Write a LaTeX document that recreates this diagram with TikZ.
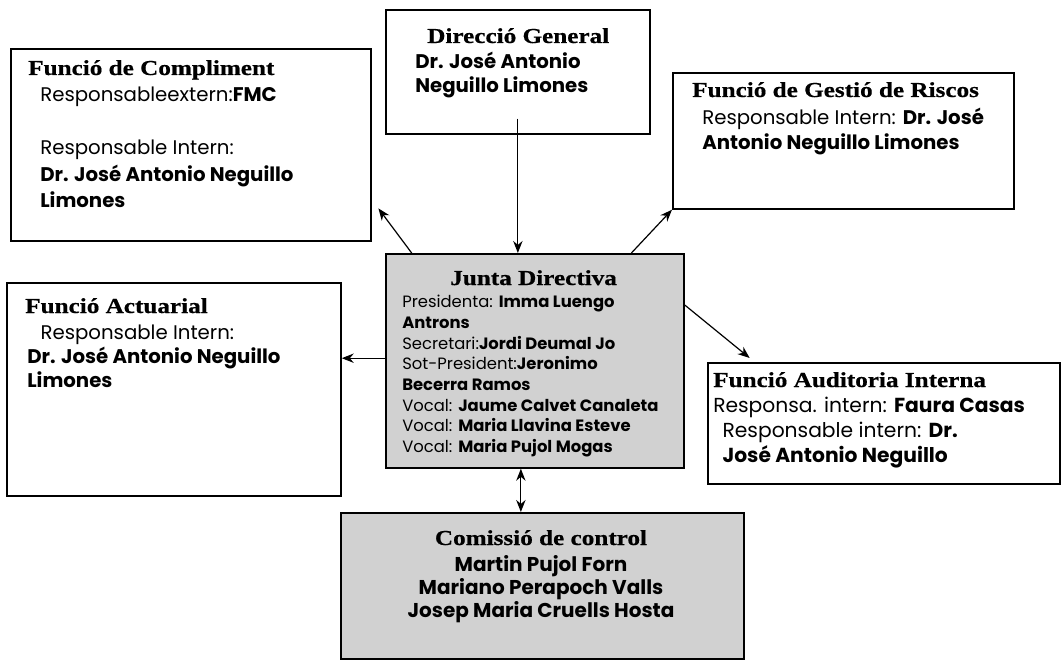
\documentclass[tikz,border=0pt]{standalone}
\usepackage{fontspec}
\setmainfont{Poppins}
\newfontfamily\titfont[FakeStretch=1.18,FakeBold=0.6]{Liberation Serif}
\usetikzlibrary{arrows.meta}
\begin{document}
\begin{tikzpicture}[x=0.75pt, y=-0.75pt,
	box/.style={draw, line width=1.3pt, inner sep=0, anchor=north west},
	shaded/.style={box, fill=black!18},
	ttl/.style={anchor=base west, inner sep=0, font=\titfont\bfseries\fontsize{16}{18}\selectfont},
	txt/.style={anchor=north west, inner sep=0, align=left, font=\fontsize{14.8}{18.8}\selectfont},
	small/.style={txt, font=\fontsize{12.3}{15.5}\selectfont},
	link/.style={-{Stealth[length=9pt,width=7pt]}, line width=0.9pt}]
	\useasboundingbox (0,0) rectangle (1061,660);
	
	%boxes
	\node[box, minimum width=270pt, minimum height=144pt] (compl) at (10,48){};
	\node[box, minimum width=198pt, minimum height=93pt] (dir) at (385,9){};
	\node[box, minimum width=255.75pt, minimum height=102pt] (risc) at (672,72){};
	\node[box, minimum width=250.5pt, minimum height=159.75pt] (act) at (6,282){};
	\node[shaded, minimum width=223.5pt, minimum height=160.5pt] (junta) at (385,253){};
	\node[box, minimum width=264pt, minimum height=90.75pt] (audit) at (707,362){};
	\node[shaded, minimum width=302.25pt, minimum height=109.5pt] (comis) at (340,512){};
	
	%titles
	\node[ttl] (complT) at (28,75){Funció de Compliment};
	\node[ttl] (dirT) at (427,43){Direcció General};
	\node[ttl] (riscT) at (692,97){Funció de Gestió de Riscos};
	\node[ttl] (actT) at (25,313){Funció Actuarial};
	\node[ttl] (juntaT) at (450,285){Junta Directiva};
	\node[ttl] (auditT) at (713,387){Funció Auditoria Interna};
	\node[ttl, anchor=base] (comisT) at (541,545){Comissió de control};
	
	%texts
	\node[txt, font=\fontsize{14.8}{19.8}\selectfont] (complB) at (40,87){Responsableextern:\textbf{FMC}\\[19.8pt]
		Responsable Intern:\\ \textbf{Dr. José Antonio Neguillo}\\ \textbf{Limones}};
	\node[txt, font=\fontsize{14.8}{17.5}\selectfont] (dirB) at (415,52){\textbf{Dr. José Antonio}\\ \textbf{Neguillo Limones}};
	\node[txt] (riscB) at (702,108){Responsable Intern: \textbf{Dr. José}\\ \textbf{Antonio Neguillo Limones}};
	\node[txt, font=\fontsize{14.8}{17.8}\selectfont] (actB) at (27,325){\hspace*{10pt}Responsable Intern:\\ \textbf{Dr. José Antonio Neguillo}\\ \textbf{Limones}};
	\node[small] (juntaB) at (402,295){Presidenta: \textbf{Imma Luengo}\\ \textbf{Antrons}\\
		Secretari:\textbf{Jordi Deumal Jo}\\ Sot-President:\textbf{Jeronimo}\\ \textbf{Becerra Ramos}\\
		Vocal: \textbf{Jaume Calvet Canaleta}\\ Vocal: \textbf{Maria Llavina Esteve}\\ Vocal: \textbf{Maria Pujol Mogas}};
	\node[txt, font=\fontsize{15.2}{18.8}\selectfont] (auditB) at (713,397){Responsa. intern: \textbf{Faura Casas}\\
		\hspace*{7pt}Responsable intern: \textbf{Dr.}\\ \hspace*{7pt}\textbf{José Antonio Neguillo}};
	\node[txt, anchor=north, align=center, font=\bfseries\fontsize{15}{17.5}\selectfont] (comisB) at (541,555){Martin Pujol Forn\\ Mariano Perapoch Valls\\ Josep Maria Cruells Hosta};
	
	%connectors
	\draw[link] ([yshift=12pt]dir.south) -- (junta.north -| dir.south);
	\draw[link] ([xshift=20pt]junta.north west) -- ([shift={(5pt,25pt)}]compl.south east);
	\draw[link] ([xshift=-40pt]junta.north east) -- (risc.south west);
	\draw[link] ([yshift=2pt]junta.west) -- ([yshift=2pt]junta.west -| act.east);
	\draw[link] ([yshift=-39pt]junta.north east) -- ([shift={(32pt,3pt)}]audit.north west);
	\draw[{Stealth[length=9pt,width=7pt]}-{Stealth[length=9pt,width=7pt]}, line width=0.9pt] ([xshift=-10.5pt]junta.south) -- ([xshift=-10.5pt]junta.south |- comis.north);
\end{tikzpicture}
\end{document}
